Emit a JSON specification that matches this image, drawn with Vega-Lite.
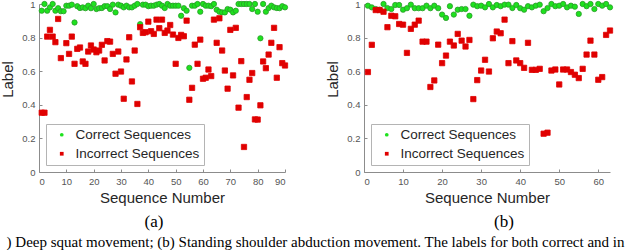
{
  "$schema": "https://vega.github.io/schema/vega-lite/v6.json",
  "background": "white",
  "padding": {"left": 0, "top": -1, "right": 0, "bottom": 0},
  "datasets": {
    "a": [
      {"seq":1,"label":0.96,"type":"Correct Sequences"},{"seq":2,"label":1.0,"type":"Correct Sequences"},{"seq":3,"label":0.96,"type":"Correct Sequences"},{"seq":4,"label":0.98,"type":"Correct Sequences"},{"seq":5,"label":1.0,"type":"Correct Sequences"},{"seq":6,"label":0.96,"type":"Correct Sequences"},{"seq":7,"label":0.975,"type":"Correct Sequences"},{"seq":8,"label":0.957,"type":"Correct Sequences"},{"seq":9,"label":0.957,"type":"Correct Sequences"},{"seq":10,"label":0.99,"type":"Correct Sequences"},
      {"seq":11,"label":0.99,"type":"Correct Sequences"},{"seq":12,"label":0.996,"type":"Correct Sequences"},{"seq":13,"label":0.89,"type":"Correct Sequences"},{"seq":14,"label":0.987,"type":"Correct Sequences"},{"seq":15,"label":0.976,"type":"Correct Sequences"},{"seq":16,"label":0.98,"type":"Correct Sequences"},{"seq":17,"label":0.975,"type":"Correct Sequences"},{"seq":18,"label":0.99,"type":"Correct Sequences"},{"seq":19,"label":0.975,"type":"Correct Sequences"},{"seq":20,"label":1.0,"type":"Correct Sequences"},
      {"seq":21,"label":0.97,"type":"Correct Sequences"},{"seq":22,"label":0.975,"type":"Correct Sequences"},{"seq":23,"label":0.976,"type":"Correct Sequences"},{"seq":24,"label":0.987,"type":"Correct Sequences"},{"seq":25,"label":0.987,"type":"Correct Sequences"},{"seq":26,"label":0.97,"type":"Correct Sequences"},{"seq":27,"label":0.996,"type":"Correct Sequences"},{"seq":28,"label":0.95,"type":"Correct Sequences"},{"seq":29,"label":0.996,"type":"Correct Sequences"},{"seq":30,"label":0.99,"type":"Correct Sequences"},
      {"seq":31,"label":0.98,"type":"Correct Sequences"},{"seq":32,"label":0.99,"type":"Correct Sequences"},{"seq":33,"label":0.98,"type":"Correct Sequences"},{"seq":34,"label":0.98,"type":"Correct Sequences"},{"seq":35,"label":0.99,"type":"Correct Sequences"},{"seq":36,"label":1.0,"type":"Correct Sequences"},{"seq":37,"label":0.88,"type":"Correct Sequences"},{"seq":38,"label":0.996,"type":"Correct Sequences"},{"seq":39,"label":0.996,"type":"Correct Sequences"},{"seq":40,"label":0.987,"type":"Correct Sequences"},
      {"seq":41,"label":0.99,"type":"Correct Sequences"},{"seq":42,"label":0.99,"type":"Correct Sequences"},{"seq":43,"label":0.996,"type":"Correct Sequences"},{"seq":44,"label":1.0,"type":"Correct Sequences"},{"seq":45,"label":0.99,"type":"Correct Sequences"},{"seq":46,"label":0.976,"type":"Correct Sequences"},{"seq":47,"label":1.0,"type":"Correct Sequences"},{"seq":48,"label":0.99,"type":"Correct Sequences"},{"seq":49,"label":0.99,"type":"Correct Sequences"},{"seq":50,"label":0.99,"type":"Correct Sequences"},
      {"seq":51,"label":0.99,"type":"Correct Sequences"},{"seq":52,"label":0.93,"type":"Correct Sequences"},{"seq":53,"label":0.975,"type":"Correct Sequences"},{"seq":54,"label":0.96,"type":"Correct Sequences"},{"seq":55,"label":0.62,"type":"Correct Sequences"},{"seq":56,"label":0.99,"type":"Correct Sequences"},{"seq":57,"label":0.99,"type":"Correct Sequences"},{"seq":58,"label":1.0,"type":"Correct Sequences"},{"seq":59,"label":0.954,"type":"Correct Sequences"},{"seq":60,"label":1.0,"type":"Correct Sequences"},
      {"seq":61,"label":0.99,"type":"Correct Sequences"},{"seq":62,"label":0.99,"type":"Correct Sequences"},{"seq":63,"label":0.987,"type":"Correct Sequences"},{"seq":64,"label":1.0,"type":"Correct Sequences"},{"seq":65,"label":0.966,"type":"Correct Sequences"},{"seq":66,"label":0.954,"type":"Correct Sequences"},{"seq":67,"label":0.95,"type":"Correct Sequences"},{"seq":68,"label":0.95,"type":"Correct Sequences"},{"seq":69,"label":0.97,"type":"Correct Sequences"},{"seq":70,"label":0.966,"type":"Correct Sequences"},
      {"seq":71,"label":0.95,"type":"Correct Sequences"},{"seq":72,"label":0.96,"type":"Correct Sequences"},{"seq":73,"label":1.0,"type":"Correct Sequences"},{"seq":74,"label":1.0,"type":"Correct Sequences"},{"seq":75,"label":1.0,"type":"Correct Sequences"},{"seq":76,"label":1.0,"type":"Correct Sequences"},{"seq":77,"label":1.0,"type":"Correct Sequences"},{"seq":78,"label":0.97,"type":"Correct Sequences"},{"seq":79,"label":1.0,"type":"Correct Sequences"},{"seq":80,"label":0.954,"type":"Correct Sequences"},
      {"seq":81,"label":0.796,"type":"Correct Sequences"},{"seq":82,"label":1.0,"type":"Correct Sequences"},{"seq":83,"label":0.954,"type":"Correct Sequences"},{"seq":84,"label":0.976,"type":"Correct Sequences"},{"seq":85,"label":0.99,"type":"Correct Sequences"},{"seq":86,"label":0.98,"type":"Correct Sequences"},{"seq":87,"label":0.976,"type":"Correct Sequences"},{"seq":88,"label":0.975,"type":"Correct Sequences"},{"seq":89,"label":0.987,"type":"Correct Sequences"},{"seq":90,"label":0.98,"type":"Correct Sequences"},
      {"seq":1,"label":0.353,"type":"Incorrect Sequences"},{"seq":2,"label":0.353,"type":"Incorrect Sequences"},{"seq":3,"label":0.806,"type":"Incorrect Sequences"},{"seq":4,"label":0.846,"type":"Incorrect Sequences"},{"seq":5,"label":0.806,"type":"Incorrect Sequences"},{"seq":6,"label":0.773,"type":"Incorrect Sequences"},{"seq":7,"label":0.911,"type":"Incorrect Sequences"},{"seq":8,"label":0.678,"type":"Incorrect Sequences"},{"seq":10,"label":0.767,"type":"Incorrect Sequences"},
      {"seq":11,"label":0.703,"type":"Incorrect Sequences"},{"seq":12,"label":0.806,"type":"Incorrect Sequences"},{"seq":13,"label":0.644,"type":"Incorrect Sequences"},{"seq":14,"label":0.733,"type":"Incorrect Sequences"},{"seq":15,"label":0.741,"type":"Incorrect Sequences"},{"seq":16,"label":0.658,"type":"Incorrect Sequences"},{"seq":17,"label":0.644,"type":"Incorrect Sequences"},{"seq":18,"label":0.717,"type":"Incorrect Sequences"},{"seq":19,"label":0.753,"type":"Incorrect Sequences"},{"seq":20,"label":0.729,"type":"Incorrect Sequences"},
      {"seq":21,"label":0.713,"type":"Incorrect Sequences"},{"seq":22,"label":0.723,"type":"Incorrect Sequences"},{"seq":23,"label":0.757,"type":"Incorrect Sequences"},{"seq":24,"label":0.664,"type":"Incorrect Sequences"},{"seq":25,"label":0.779,"type":"Incorrect Sequences"},{"seq":26,"label":0.776,"type":"Incorrect Sequences"},{"seq":27,"label":0.703,"type":"Incorrect Sequences"},{"seq":28,"label":0.585,"type":"Incorrect Sequences"},{"seq":29,"label":0.717,"type":"Incorrect Sequences"},{"seq":30,"label":0.598,"type":"Incorrect Sequences"},
      {"seq":31,"label":0.436,"type":"Incorrect Sequences"},{"seq":32,"label":0.67,"type":"Incorrect Sequences"},{"seq":33,"label":0.802,"type":"Incorrect Sequences"},{"seq":34,"label":0.539,"type":"Incorrect Sequences"},{"seq":35,"label":0.723,"type":"Incorrect Sequences"},{"seq":36,"label":0.405,"type":"Incorrect Sequences"},{"seq":37,"label":0.862,"type":"Incorrect Sequences"},{"seq":38,"label":0.828,"type":"Incorrect Sequences"},{"seq":39,"label":0.832,"type":"Incorrect Sequences"},{"seq":40,"label":0.895,"type":"Incorrect Sequences"},
      {"seq":41,"label":0.838,"type":"Incorrect Sequences"},{"seq":42,"label":0.822,"type":"Incorrect Sequences"},{"seq":43,"label":0.907,"type":"Incorrect Sequences"},{"seq":44,"label":0.856,"type":"Incorrect Sequences"},{"seq":45,"label":0.907,"type":"Incorrect Sequences"},{"seq":46,"label":0.828,"type":"Incorrect Sequences"},{"seq":47,"label":0.842,"type":"Incorrect Sequences"},{"seq":48,"label":0.875,"type":"Incorrect Sequences"},{"seq":49,"label":0.818,"type":"Incorrect Sequences"},{"seq":50,"label":0.644,"type":"Incorrect Sequences"},
      {"seq":51,"label":0.798,"type":"Incorrect Sequences"},{"seq":52,"label":0.816,"type":"Incorrect Sequences"},{"seq":53,"label":0.808,"type":"Incorrect Sequences"},{"seq":54,"label":0.901,"type":"Incorrect Sequences"},{"seq":55,"label":0.43,"type":"Incorrect Sequences"},{"seq":56,"label":0.501,"type":"Incorrect Sequences"},{"seq":57,"label":0.758,"type":"Incorrect Sequences"},{"seq":58,"label":0.644,"type":"Incorrect Sequences"},{"seq":59,"label":0.788,"type":"Incorrect Sequences"},{"seq":60,"label":0.555,"type":"Incorrect Sequences"},
      {"seq":61,"label":0.561,"type":"Incorrect Sequences"},{"seq":62,"label":0.61,"type":"Incorrect Sequences"},{"seq":63,"label":0.571,"type":"Incorrect Sequences"},{"seq":64,"label":0.907,"type":"Incorrect Sequences"},{"seq":65,"label":0.769,"type":"Incorrect Sequences"},{"seq":66,"label":0.915,"type":"Incorrect Sequences"},{"seq":67,"label":0.723,"type":"Incorrect Sequences"},{"seq":68,"label":0.604,"type":"Incorrect Sequences"},{"seq":69,"label":0.496,"type":"Incorrect Sequences"},{"seq":70,"label":0.846,"type":"Incorrect Sequences"},
      {"seq":71,"label":0.575,"type":"Incorrect Sequences"},{"seq":72,"label":0.858,"type":"Incorrect Sequences"},{"seq":73,"label":0.383,"type":"Incorrect Sequences"},{"seq":74,"label":0.66,"type":"Incorrect Sequences"},{"seq":75,"label":0.149,"type":"Incorrect Sequences"},{"seq":76,"label":0.446,"type":"Incorrect Sequences"},{"seq":77,"label":0.549,"type":"Incorrect Sequences"},{"seq":78,"label":0.589,"type":"Incorrect Sequences"},{"seq":79,"label":0.313,"type":"Incorrect Sequences"},{"seq":80,"label":0.312,"type":"Incorrect Sequences"},
      {"seq":81,"label":0.397,"type":"Incorrect Sequences"},{"seq":82,"label":0.658,"type":"Incorrect Sequences"},{"seq":83,"label":0.618,"type":"Incorrect Sequences"},{"seq":84,"label":0.699,"type":"Incorrect Sequences"},{"seq":85,"label":0.769,"type":"Incorrect Sequences"},{"seq":86,"label":0.858,"type":"Incorrect Sequences"},{"seq":87,"label":0.561,"type":"Incorrect Sequences"},{"seq":88,"label":0.743,"type":"Incorrect Sequences"},{"seq":89,"label":0.648,"type":"Incorrect Sequences"},{"seq":90,"label":0.634,"type":"Incorrect Sequences"}
    ],
    "b": [
      {"seq":1,"label":0.99,"type":"Correct Sequences"},{"seq":2,"label":0.98,"type":"Correct Sequences"},{"seq":3,"label":0.97,"type":"Correct Sequences"},{"seq":4,"label":0.966,"type":"Correct Sequences"},{"seq":5,"label":1.0,"type":"Correct Sequences"},{"seq":6,"label":0.976,"type":"Correct Sequences"},{"seq":7,"label":0.97,"type":"Correct Sequences"},{"seq":8,"label":0.994,"type":"Correct Sequences"},{"seq":9,"label":0.994,"type":"Correct Sequences"},{"seq":10,"label":0.966,"type":"Correct Sequences"},
      {"seq":11,"label":0.975,"type":"Correct Sequences"},{"seq":12,"label":0.996,"type":"Correct Sequences"},{"seq":13,"label":0.975,"type":"Correct Sequences"},{"seq":14,"label":0.975,"type":"Correct Sequences"},{"seq":15,"label":0.975,"type":"Correct Sequences"},{"seq":16,"label":0.99,"type":"Correct Sequences"},{"seq":17,"label":0.975,"type":"Correct Sequences"},{"seq":18,"label":0.99,"type":"Correct Sequences"},{"seq":19,"label":0.975,"type":"Correct Sequences"},{"seq":20,"label":0.937,"type":"Correct Sequences"},
      {"seq":21,"label":0.917,"type":"Correct Sequences"},{"seq":22,"label":0.987,"type":"Correct Sequences"},{"seq":23,"label":0.937,"type":"Correct Sequences"},{"seq":24,"label":0.966,"type":"Correct Sequences"},{"seq":25,"label":0.97,"type":"Correct Sequences"},{"seq":26,"label":0.97,"type":"Correct Sequences"},{"seq":27,"label":0.93,"type":"Correct Sequences"},{"seq":28,"label":0.996,"type":"Correct Sequences"},{"seq":29,"label":0.987,"type":"Correct Sequences"},{"seq":30,"label":0.99,"type":"Correct Sequences"},
      {"seq":31,"label":0.98,"type":"Correct Sequences"},{"seq":32,"label":1.0,"type":"Correct Sequences"},{"seq":33,"label":0.98,"type":"Correct Sequences"},{"seq":34,"label":0.994,"type":"Correct Sequences"},{"seq":35,"label":0.987,"type":"Correct Sequences"},{"seq":36,"label":0.996,"type":"Correct Sequences"},{"seq":37,"label":0.996,"type":"Correct Sequences"},{"seq":38,"label":0.976,"type":"Correct Sequences"},{"seq":39,"label":0.994,"type":"Correct Sequences"},{"seq":40,"label":0.975,"type":"Correct Sequences"},
      {"seq":41,"label":0.966,"type":"Correct Sequences"},{"seq":42,"label":0.987,"type":"Correct Sequences"},{"seq":43,"label":0.98,"type":"Correct Sequences"},{"seq":44,"label":0.99,"type":"Correct Sequences"},{"seq":45,"label":0.996,"type":"Correct Sequences"},{"seq":46,"label":0.957,"type":"Correct Sequences"},{"seq":47,"label":0.976,"type":"Correct Sequences"},{"seq":48,"label":1.0,"type":"Correct Sequences"},{"seq":49,"label":0.987,"type":"Correct Sequences"},{"seq":50,"label":0.99,"type":"Correct Sequences"},
      {"seq":51,"label":1.0,"type":"Correct Sequences"},{"seq":52,"label":0.98,"type":"Correct Sequences"},{"seq":53,"label":0.99,"type":"Correct Sequences"},{"seq":54,"label":0.984,"type":"Correct Sequences"},{"seq":55,"label":0.941,"type":"Correct Sequences"},{"seq":56,"label":1.0,"type":"Correct Sequences"},{"seq":57,"label":0.987,"type":"Correct Sequences"},{"seq":58,"label":1.0,"type":"Correct Sequences"},{"seq":59,"label":0.97,"type":"Correct Sequences"},{"seq":60,"label":1.0,"type":"Correct Sequences"},
      {"seq":61,"label":0.99,"type":"Correct Sequences"},{"seq":62,"label":1.0,"type":"Correct Sequences"},{"seq":63,"label":0.98,"type":"Correct Sequences"},
      {"seq":1,"label":0.595,"type":"Incorrect Sequences"},{"seq":2,"label":0.757,"type":"Incorrect Sequences"},{"seq":3,"label":0.964,"type":"Incorrect Sequences"},{"seq":4,"label":0.964,"type":"Incorrect Sequences"},{"seq":5,"label":0.954,"type":"Incorrect Sequences"},{"seq":6,"label":0.862,"type":"Incorrect Sequences"},{"seq":7,"label":0.93,"type":"Incorrect Sequences"},{"seq":8,"label":0.927,"type":"Incorrect Sequences"},{"seq":9,"label":0.881,"type":"Incorrect Sequences"},{"seq":10,"label":0.877,"type":"Incorrect Sequences"},
      {"seq":11,"label":0.709,"type":"Incorrect Sequences"},{"seq":12,"label":0.852,"type":"Incorrect Sequences"},{"seq":13,"label":0.877,"type":"Incorrect Sequences"},{"seq":14,"label":0.901,"type":"Incorrect Sequences"},{"seq":15,"label":0.776,"type":"Incorrect Sequences"},{"seq":16,"label":0.776,"type":"Incorrect Sequences"},{"seq":17,"label":0.506,"type":"Incorrect Sequences"},{"seq":18,"label":0.545,"type":"Incorrect Sequences"},{"seq":19,"label":0.758,"type":"Incorrect Sequences"},{"seq":20,"label":0.648,"type":"Incorrect Sequences"},
      {"seq":21,"label":0.693,"type":"Incorrect Sequences"},{"seq":22,"label":0.776,"type":"Incorrect Sequences"},{"seq":23,"label":0.753,"type":"Incorrect Sequences"},{"seq":24,"label":0.822,"type":"Incorrect Sequences"},{"seq":25,"label":0.782,"type":"Incorrect Sequences"},{"seq":26,"label":0.747,"type":"Incorrect Sequences"},{"seq":27,"label":0.786,"type":"Incorrect Sequences"},{"seq":28,"label":0.434,"type":"Incorrect Sequences"},{"seq":29,"label":0.547,"type":"Incorrect Sequences"},{"seq":30,"label":0.604,"type":"Incorrect Sequences"},
      {"seq":31,"label":0.668,"type":"Incorrect Sequences"},{"seq":32,"label":0.598,"type":"Incorrect Sequences"},{"seq":33,"label":0.796,"type":"Incorrect Sequences"},{"seq":34,"label":0.836,"type":"Incorrect Sequences"},{"seq":35,"label":0.826,"type":"Incorrect Sequences"},{"seq":36,"label":0.907,"type":"Incorrect Sequences"},{"seq":37,"label":0.648,"type":"Incorrect Sequences"},{"seq":38,"label":0.779,"type":"Incorrect Sequences"},{"seq":39,"label":0.664,"type":"Incorrect Sequences"},{"seq":40,"label":0.648,"type":"Incorrect Sequences"},
      {"seq":41,"label":0.62,"type":"Incorrect Sequences"},{"seq":42,"label":0.769,"type":"Incorrect Sequences"},{"seq":43,"label":0.608,"type":"Incorrect Sequences"},{"seq":44,"label":0.608,"type":"Incorrect Sequences"},{"seq":45,"label":0.614,"type":"Incorrect Sequences"},{"seq":46,"label":0.228,"type":"Incorrect Sequences"},{"seq":47,"label":0.234,"type":"Incorrect Sequences"},{"seq":48,"label":0.604,"type":"Incorrect Sequences"},{"seq":49,"label":0.61,"type":"Incorrect Sequences"},{"seq":50,"label":0.521,"type":"Incorrect Sequences"},
      {"seq":51,"label":0.61,"type":"Incorrect Sequences"},{"seq":52,"label":0.61,"type":"Incorrect Sequences"},{"seq":53,"label":0.595,"type":"Incorrect Sequences"},{"seq":54,"label":0.579,"type":"Incorrect Sequences"},{"seq":55,"label":0.559,"type":"Incorrect Sequences"},{"seq":56,"label":0.614,"type":"Incorrect Sequences"},{"seq":57,"label":0.699,"type":"Incorrect Sequences"},{"seq":58,"label":0.782,"type":"Incorrect Sequences"},{"seq":59,"label":0.699,"type":"Incorrect Sequences"},{"seq":60,"label":0.549,"type":"Incorrect Sequences"},
      {"seq":61,"label":0.565,"type":"Incorrect Sequences"},{"seq":62,"label":0.816,"type":"Incorrect Sequences"},{"seq":63,"label":0.842,"type":"Incorrect Sequences"}
    ]
  },
  "title": {
    "text": ") Deep squat movement; (b) Standing shoulder abduction movement. The labels for both correct and in",
    "orient": "bottom", "anchor": "middle", "font": "Liberation Serif", "fontSize": 15, "fontWeight": "normal", "color": "#000000", "offset": 5, "dx": 8
  },
  "spacing": 35,
  "hconcat": [
    {
      "data": {"name": "a"},
      "width": 246, "height": 168,
      "title": {"text": "(a)", "orient": "bottom", "anchor": "middle", "font": "Liberation Serif", "fontSize": 17, "fontWeight": "normal", "color": "#000000", "offset": 8, "dx": -8},
      "mark": {"type": "point", "filled": true, "strokeWidth": 0.8, "opacity": 1, "size": 28},
      "encoding": {
        "x": {"field": "seq", "type": "quantitative", "scale": {"domain": [0, 90], "nice": false, "zero": false}, "axis": {"values": [0,10,20,30,40,50,60,70,80,90], "title": "Sequence Number"}},
        "y": {"field": "label", "type": "quantitative", "scale": {"domain": [0, 1], "nice": false}, "axis": {"values": [0,0.2,0.4,0.6,0.8,1], "format": "~g", "title": "Label", "titleY": 75}},
        "shape": {"field": "type", "type": "nominal", "scale": {"domain": ["Correct Sequences","Incorrect Sequences"], "range": ["circle","square"]}, "legend": {"title": null, "encode": {"symbols": {"update": {"shape": {"signal": "datum.label === 'Incorrect Sequences' ? 'M-1,-0.55H1V0.55H-1Z' : 'circle'"}}}}}},
        "color": {"field": "type", "type": "nominal", "scale": {"domain": ["Correct Sequences","Incorrect Sequences"], "range": ["#1ee21e","#e00000"]}, "legend": {"title": null}},
        "stroke": {"field": "type", "type": "nominal", "scale": {"domain": ["Correct Sequences","Incorrect Sequences"], "range": ["#2a9a2a","#e00000"]}, "legend": null}
      }
    },
    {
      "data": {"name": "b"},
      "width": 246, "height": 168,
      "title": {"text": "(b)", "orient": "bottom", "anchor": "middle", "font": "Liberation Serif", "fontSize": 17, "fontWeight": "normal", "color": "#000000", "offset": 8, "dx": 17},
      "mark": {"type": "point", "filled": true, "strokeWidth": 0.8, "opacity": 1, "size": 28},
      "encoding": {
        "x": {"field": "seq", "type": "quantitative", "scale": {"domain": [0, 63], "nice": false, "zero": false}, "axis": {"values": [0,10,20,30,40,50,60], "title": "Sequence Number"}},
        "y": {"field": "label", "type": "quantitative", "scale": {"domain": [0, 1], "nice": false}, "axis": {"values": [0,0.2,0.4,0.6,0.8,1], "format": "~g", "title": "Label", "titleY": 75}},
        "shape": {"field": "type", "type": "nominal", "scale": {"domain": ["Correct Sequences","Incorrect Sequences"], "range": ["circle","square"]}, "legend": {"title": null, "encode": {"symbols": {"update": {"shape": {"signal": "datum.label === 'Incorrect Sequences' ? 'M-1,-0.55H1V0.55H-1Z' : 'circle'"}}}}}},
        "color": {"field": "type", "type": "nominal", "scale": {"domain": ["Correct Sequences","Incorrect Sequences"], "range": ["#1ee21e","#e00000"]}, "legend": {"title": null}},
        "stroke": {"field": "type", "type": "nominal", "scale": {"domain": ["Correct Sequences","Incorrect Sequences"], "range": ["#2a9a2a","#e00000"]}, "legend": null}
      }
    }
  ],
  "resolve": {
    "scale": {"x": "independent", "y": "independent", "color": "independent", "shape": "independent", "stroke": "independent"},
    "legend": {"color": "independent", "shape": "independent"}
  },
  "config": {
    "view": {"stroke": null},
    "axis": {
      "grid": false,
      "domainColor": "#8c8c8c", "tickColor": "#8c8c8c", "tickSize": -3,
      "labelFont": "Liberation Sans", "labelFontSize": 9.5, "labelColor": "#555555", "labelPadding": 7,
      "titleFont": "Liberation Sans", "titleFontSize": 15, "titleFontWeight": "normal", "titleColor": "#262626"
    },
    "axisX": {"titlePadding": 5},
    "axisY": {"titlePadding": 6},
    "legend": {
      "orient": "bottom-left", "offset": 7,
      "strokeColor": "#b4b4b4", "fillColor": "#ffffff", "padding": 4,
      "labelFont": "Liberation Sans", "labelFontSize": 13.5, "labelColor": "#262626",
      "symbolSize": 14, "symbolStrokeWidth": 0, "rowPadding": 4, "symbolOffset": 5, "labelOffset": 7
    }
  }
}
